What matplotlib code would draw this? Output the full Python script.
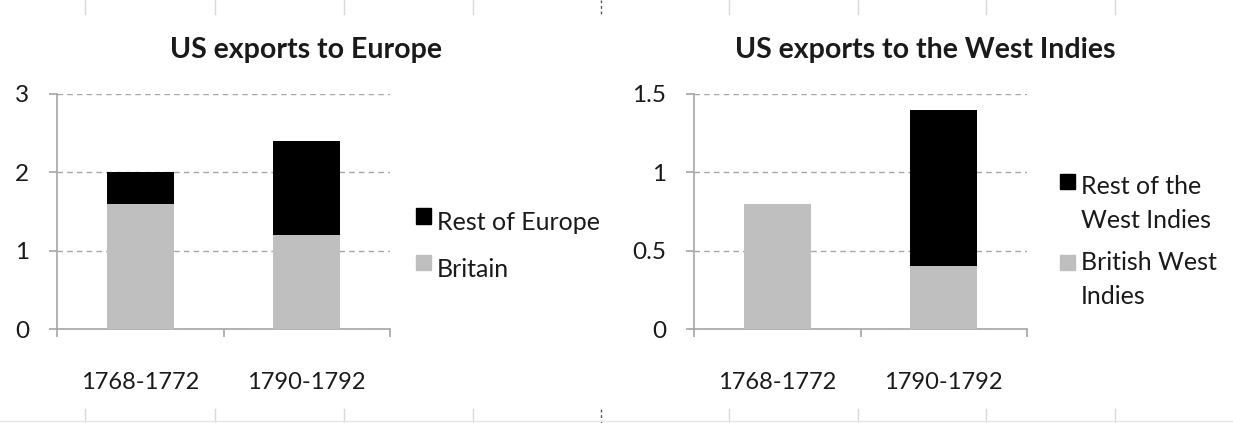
import matplotlib
matplotlib.use('Agg')
import matplotlib.pyplot as plt
from matplotlib.patches import Rectangle
from matplotlib.lines import Line2D

# data
periods = ['1768-1772', '1790-1792']
europe_britain = [1.6, 1.2]
europe_rest = [0.4, 1.2]
wi_british = [0.8, 0.4]
wi_rest = [0.0, 1.0]

europe_labels = ['Rest of Europe', 'Britain']
wi_labels = ['Rest of the\nWest Indies', 'British West\nIndies']

GREY = '#BFBFBF'
BLACK = '#000000'
AXIS = '#A6A6A6'
TEXT = '#1A1A1A'

plt.rcParams['font.family'] = ['Lato', 'DejaVu Sans']
plt.rcParams['font.size'] = 17

W, H = 1233, 423
fig = plt.figure(figsize=(W / 100, H / 100), dpi=100)


def px(x, y):
    return x / W, 1 - y / H


def make_axes(left, ymax, yticks, ytick_labels, lower, upper):
    ax = fig.add_axes([left / W, 1 - 329 / H, 333 / W, 235 / H])
    xs = [0.5, 1.5]
    ax.bar(xs, lower, width=0.4, color=GREY, zorder=3)
    ax.bar(xs, upper, width=0.4, bottom=lower, color=BLACK, zorder=3)
    ax.set_xlim(0, 2)
    ax.set_ylim(0, ymax)
    ax.set_yticks(yticks)
    ax.set_yticklabels(ytick_labels, fontsize=17.5, color=TEXT)
    ax.set_xticks([0, 1, 2])
    ax.set_xticklabels([])
    ax.set_xticks(xs, minor=True)
    ax.set_xticklabels(periods, minor=True, fontsize=17, color=TEXT)
    ax.tick_params(axis='x', which='minor', length=0, pad=31)
    ax.tick_params(axis='x', which='major', length=6, color=AXIS, width=1.2)
    ax.tick_params(axis='y', length=6, color=AXIS, width=1.2, pad=14)
    for s in ['top', 'right']:
        ax.spines[s].set_visible(False)
    for s in ['left', 'bottom']:
        ax.spines[s].set_color(AXIS)
        ax.spines[s].set_linewidth(1.2)
    ax.yaxis.grid(True, linestyle=(0, (4, 3)), color=AXIS, linewidth=1, zorder=0)
    ax.set_axisbelow(True)
    return ax


ax1 = make_axes(57, 3, [0, 1, 2, 3], ['0', '1', '2', '3'], europe_britain, europe_rest)
ax2 = make_axes(694, 1.5, [0, 0.5, 1, 1.5], ['0', '0.5', '1', '1.5'], wi_british, wi_rest)

# titles
fig.text(*px(306, 50), 'US exports to Europe', ha='center', va='center',
         fontsize=20.5, fontweight='bold', color=TEXT)
fig.text(*px(925, 50), 'US exports to the West Indies', ha='center', va='center',
         fontsize=20.5, fontweight='bold', color=TEXT)


# legends
def legend_entry(x, y, color, label, ytext):
    fig.add_artist(Rectangle(px(x, y + 7.5), 15 / W, 15 / H, color=color,
                             transform=fig.transFigure))
    fig.text(*px(x + 21, ytext), label, ha='left', va='top', fontsize=18,
             color=TEXT, linespacing=1.57)


legend_entry(416, 216, BLACK, europe_labels[0], 211)
legend_entry(416, 262, GREY, europe_labels[1], 258)
legend_entry(1060, 182, BLACK, wi_labels[0], 175)
legend_entry(1060, 262, GREY, wi_labels[1], 251)

# faint sheet grid at the edges
for x in [85, 215, 344, 473, 729, 858, 986, 1115]:
    fig.add_artist(Line2D([x / W, x / W], [1, 1 - 14 / H], color='#D9D9D9', lw=1))
    fig.add_artist(Line2D([x / W, x / W], [0, 14 / H], color='#D9D9D9', lw=1))
for y0, y1 in [(1, 1 - 14 / H), (0, 14 / H)]:
    fig.add_artist(Line2D([601 / W, 601 / W], [y0, y1], color='#555555', lw=1,
                          linestyle=(0, (2, 2))))
fig.add_artist(Line2D([0, 1], [2 / H, 2 / H], color='#E6E6E6', lw=1))

fig.savefig('out.png', dpi=100)
